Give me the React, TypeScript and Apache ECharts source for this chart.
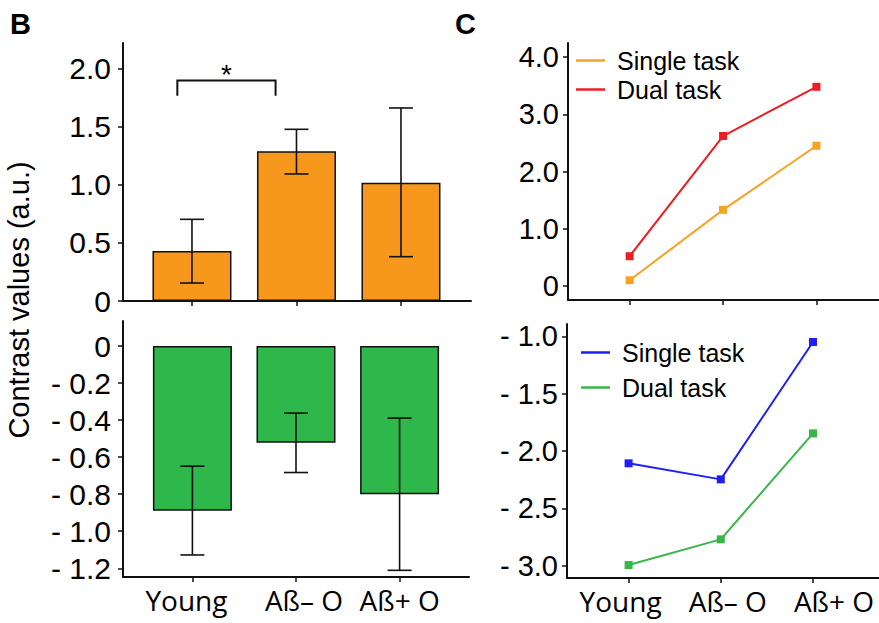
import React, { useEffect, useRef } from "react";
import * as echarts from "echarts";

// ---------- data ----------
const categories = ["Young", "Aß– O", "Aß+ O"];
const catPositions = [0, 1, 2];

// Panel B (top): positive contrast
const barTopValues = [0.43, 1.29, 1.02];
const barTopErrLow = [0.155, 1.095, 0.382];
const barTopErrHigh = [0.704, 1.48, 1.664];

// Panel B (bottom): negative contrast
const barBottomValues = [-0.89, -0.522, -0.8];
const barBottomErrLow = [-1.128, -0.683, -1.211];
const barBottomErrHigh = [-0.649, -0.362, -0.389];

// significance bracket: [x1, x2, yTop, yLeg]; star: [x, y]
const bracket = [-0.14, 0.8, 1.9, 1.77];
const star = [0.33, 1.95];

// Panel C (top)
const topSingle = [0.1, 1.33, 2.45];
const topDual = [0.52, 2.62, 3.48];
// Panel C (bottom)
const bottomSingle = [-2.107, -2.247, -1.049];
const bottomDual = [-2.994, -2.77, -1.846];

// tick values
const ticksTopLeft = [0, 0.5, 1, 1.5, 2];
const ticksBottomLeft = [0, -0.2, -0.4, -0.6, -0.8, -1.0, -1.2];
const ticksTopRight = [0, 1, 2, 3, 4];
const ticksBottomRight = [-1, -1.5, -2, -2.5, -3];

const yTitle = "Contrast values (a.u.)";

// ---------- styles ----------
const SANS = "'Liberation Sans', Arial, Helvetica, sans-serif";
const HUMAN = "'Open Sans', 'Noto Sans', sans-serif";
const AXIS = "#111";
const ORANGE_BAR = "#F7981D";
const GREEN_BAR = "#2EB74A";
const ORANGE_LINE = "#F6A323";
const RED_LINE = "#EE1C25";
const BLUE_LINE = "#1F1FF2";
const GREEN_LINE = "#39B54A";

// horizontal label nudges (px) per category, left and right panels
const labelShiftLeft = [-6, 8, 0];
const labelShiftRight = [-8, 7, 21];

const fmtPos = (v: number) => (Math.abs(v) < 1e-9 ? "0" : v.toFixed(1));
const fmtNeg = (v: number) =>
  Math.abs(v) < 1e-9 ? "0" : "- " + Math.abs(v).toFixed(1);

function makeRich(shifts: number[]) {
  const rich: any = {};
  shifts.forEach((d, i) => {
    rich["c" + i] = {
      fontFamily: HUMAN,
      fontSize: 28,
      color: "#000",
      padding: d >= 0 ? [0, 0, 0, 2 * d] : [0, -2 * d, 0, 0],
    };
  });
  return rich;
}

function xAxis(
  gridIndex: number,
  min: number,
  max: number,
  showLabels: boolean,
  shifts: number[]
) {
  return {
    type: "value",
    gridIndex,
    min,
    max,
    splitLine: { show: false },
    axisLine: { show: true, onZero: false, lineStyle: { color: AXIS, width: 2 } },
    axisTick: {
      show: true,
      customValues: catPositions,
      length: 5,
      lineStyle: { color: AXIS, width: 1.5 },
    },
    axisLabel: {
      show: showLabels,
      customValues: catPositions,
      formatter: (v: number) => {
        const i = Math.round(v);
        return categories[i] !== undefined ? `{c${i}|${categories[i]}}` : "";
      },
      rich: makeRich(shifts),
      color: "#000",
      fontFamily: HUMAN,
      fontSize: 28,
      margin: 9,
    },
  };
}

function yAxis(
  gridIndex: number,
  min: number,
  max: number,
  ticks: number[],
  fmt: (v: number) => string,
  fontSize: number,
  margin: number
) {
  return {
    type: "value",
    gridIndex,
    min,
    max,
    splitLine: { show: false },
    axisLine: { show: true, onZero: false, lineStyle: { color: AXIS, width: 2 } },
    axisTick: {
      show: true,
      customValues: ticks,
      length: 5,
      lineStyle: { color: AXIS, width: 1.5 },
    },
    axisLabel: {
      show: true,
      customValues: ticks,
      formatter: fmt,
      color: "#000",
      fontFamily: SANS,
      fontSize,
      margin,
    },
  };
}

const errorRender = (params: any, api: any) => {
  const x = api.value(0);
  const lo = api.coord([x, api.value(1)]);
  const hi = api.coord([x, api.value(2)]);
  const hw = 12;
  const st = { stroke: "#111", lineWidth: 1.6 };
  return {
    type: "group",
    children: [
      { type: "line", shape: { x1: lo[0], y1: lo[1], x2: hi[0], y2: hi[1] }, style: st },
      { type: "line", shape: { x1: lo[0] - hw, y1: lo[1], x2: lo[0] + hw, y2: lo[1] }, style: st },
      { type: "line", shape: { x1: hi[0] - hw, y1: hi[1], x2: hi[0] + hw, y2: hi[1] }, style: st },
    ],
  };
};

export default function App() {
  const ref = useRef<HTMLDivElement>(null);

  useEffect(() => {
    if (!ref.current) return;
    const chart = echarts.init(ref.current, null, { renderer: "svg" });

    const lineSeries = (
      name: string,
      values: number[],
      color: string,
      gi: number
    ) => ({
      type: "line",
      name,
      xAxisIndex: gi,
      yAxisIndex: gi,
      data: values.map((v, i) => [catPositions[i], v]),
      symbol: "rect",
      symbolSize: 8,
      lineStyle: { color, width: 2 },
      itemStyle: { color },
      z: 4,
    });

    const legendCommon = {
      orient: "vertical",
      icon: "rect",
      itemWidth: 29,
      itemHeight: 2.5,
      padding: 0,
      selectedMode: false,
      formatter: (n: string) => n.split("|")[0],
      textStyle: {
        fontFamily: SANS,
        fontSize: 25,
        color: "#000",
        lineHeight: 25,
        padding: [0, 0, 0, 7],
      },
    };

    const letterStyle = {
      fontFamily: SANS,
      fontWeight: "bold",
      fontSize: 29,
      fill: "#000",
      textAlign: "left",
      textVerticalAlign: "middle",
    };

    chart.setOption({
      animation: false,
      backgroundColor: "#fff",
      grid: [
        { left: 123, top: 43, width: 348, height: 258 },
        { left: 123, top: 321, width: 346, height: 256 },
        { left: 568, top: 43, width: 314, height: 257 },
        { left: 567, top: 324, width: 314, height: 254 },
      ],
      xAxis: [
        xAxis(0, -0.66, 2.67, false, labelShiftLeft),
        xAxis(1, -0.67, 2.67, true, labelShiftLeft),
        xAxis(2, -0.66, 2.67, false, labelShiftRight),
        xAxis(3, -0.668, 2.716, true, labelShiftRight),
      ],
      yAxis: [
        yAxis(0, 0, 2.224, ticksTopLeft, fmtPos, 30, 12),
        yAxis(1, -1.247, 0.135, ticksBottomLeft, fmtNeg, 30, 12),
        yAxis(2, -0.245, 4.245, ticksTopRight, fmtPos, 29, 9),
        yAxis(3, -3.107, -0.892, ticksBottomRight, fmtNeg, 29, 9),
      ],
      legend: [
        {
          ...legendCommon,
          data: ["Single task|A", "Dual task|A"],
          left: 576,
          top: 48,
          itemGap: 4,
        },
        {
          ...legendCommon,
          data: ["Single task|B", "Dual task|B"],
          left: 581,
          top: 340,
          itemGap: 10,
        },
      ],
      graphic: [
        {
          type: "text",
          x: 10,
          y: 24,
          style: { ...letterStyle, text: "B" },
        },
        {
          type: "text",
          x: 455,
          y: 24,
          style: { ...letterStyle, text: "C" },
        },
        {
          type: "text",
          x: 19,
          y: 300,
          rotation: Math.PI / 2,
          style: {
            text: yTitle,
            fontFamily: SANS,
            fontSize: 29,
            fill: "#000",
            textAlign: "center",
            textVerticalAlign: "middle",
          },
        },
      ],
      series: [
        {
          type: "bar",
          xAxisIndex: 0,
          yAxisIndex: 0,
          barWidth: 79,
          data: barTopValues.map((v, i) => [catPositions[i], v]),
          itemStyle: { color: ORANGE_BAR, borderColor: "#111", borderWidth: 1.5 },
        },
        {
          type: "custom",
          xAxisIndex: 0,
          yAxisIndex: 0,
          z: 5,
          renderItem: errorRender,
          data: catPositions.map((x, i) => [x, barTopErrLow[i], barTopErrHigh[i]]),
        },
        {
          type: "custom",
          xAxisIndex: 0,
          yAxisIndex: 0,
          z: 5,
          renderItem: (params: any, api: any) => {
            const x1 = api.value(0);
            const x2 = api.value(1);
            const yT = api.value(2);
            const yL = api.value(3);
            const a = api.coord([x1, yL]);
            const b = api.coord([x1, yT]);
            const c = api.coord([x2, yT]);
            const d = api.coord([x2, yL]);
            const s = api.coord([star[0], star[1]]);
            return {
              type: "group",
              children: [
                {
                  type: "polyline",
                  shape: { points: [a, b, c, d] },
                  style: { stroke: "#111", lineWidth: 2, fill: "none" },
                },
                {
                  type: "text",
                  style: {
                    x: s[0],
                    y: s[1],
                    text: "*",
                    fontFamily: SANS,
                    fontSize: 28,
                    fill: "#000",
                    textAlign: "center",
                    textVerticalAlign: "middle",
                  },
                },
              ],
            };
          },
          data: [bracket],
        },
        {
          type: "bar",
          xAxisIndex: 1,
          yAxisIndex: 1,
          barWidth: 79,
          data: barBottomValues.map((v, i) => [catPositions[i], v]),
          itemStyle: { color: GREEN_BAR, borderColor: "#111", borderWidth: 1.5 },
        },
        {
          type: "custom",
          xAxisIndex: 1,
          yAxisIndex: 1,
          z: 5,
          renderItem: errorRender,
          data: catPositions.map((x, i) => [x, barBottomErrLow[i], barBottomErrHigh[i]]),
        },
        lineSeries("Single task|A", topSingle, ORANGE_LINE, 2),
        lineSeries("Dual task|A", topDual, RED_LINE, 2),
        lineSeries("Single task|B", bottomSingle, BLUE_LINE, 3),
        lineSeries("Dual task|B", bottomDual, GREEN_LINE, 3),
      ],
    });

    return () => chart.dispose();
  }, []);

  return (
    <div
      ref={ref}
      style={{ position: "absolute", left: 0, top: 0, width: 879, height: 623 }}
    />
  );
}
